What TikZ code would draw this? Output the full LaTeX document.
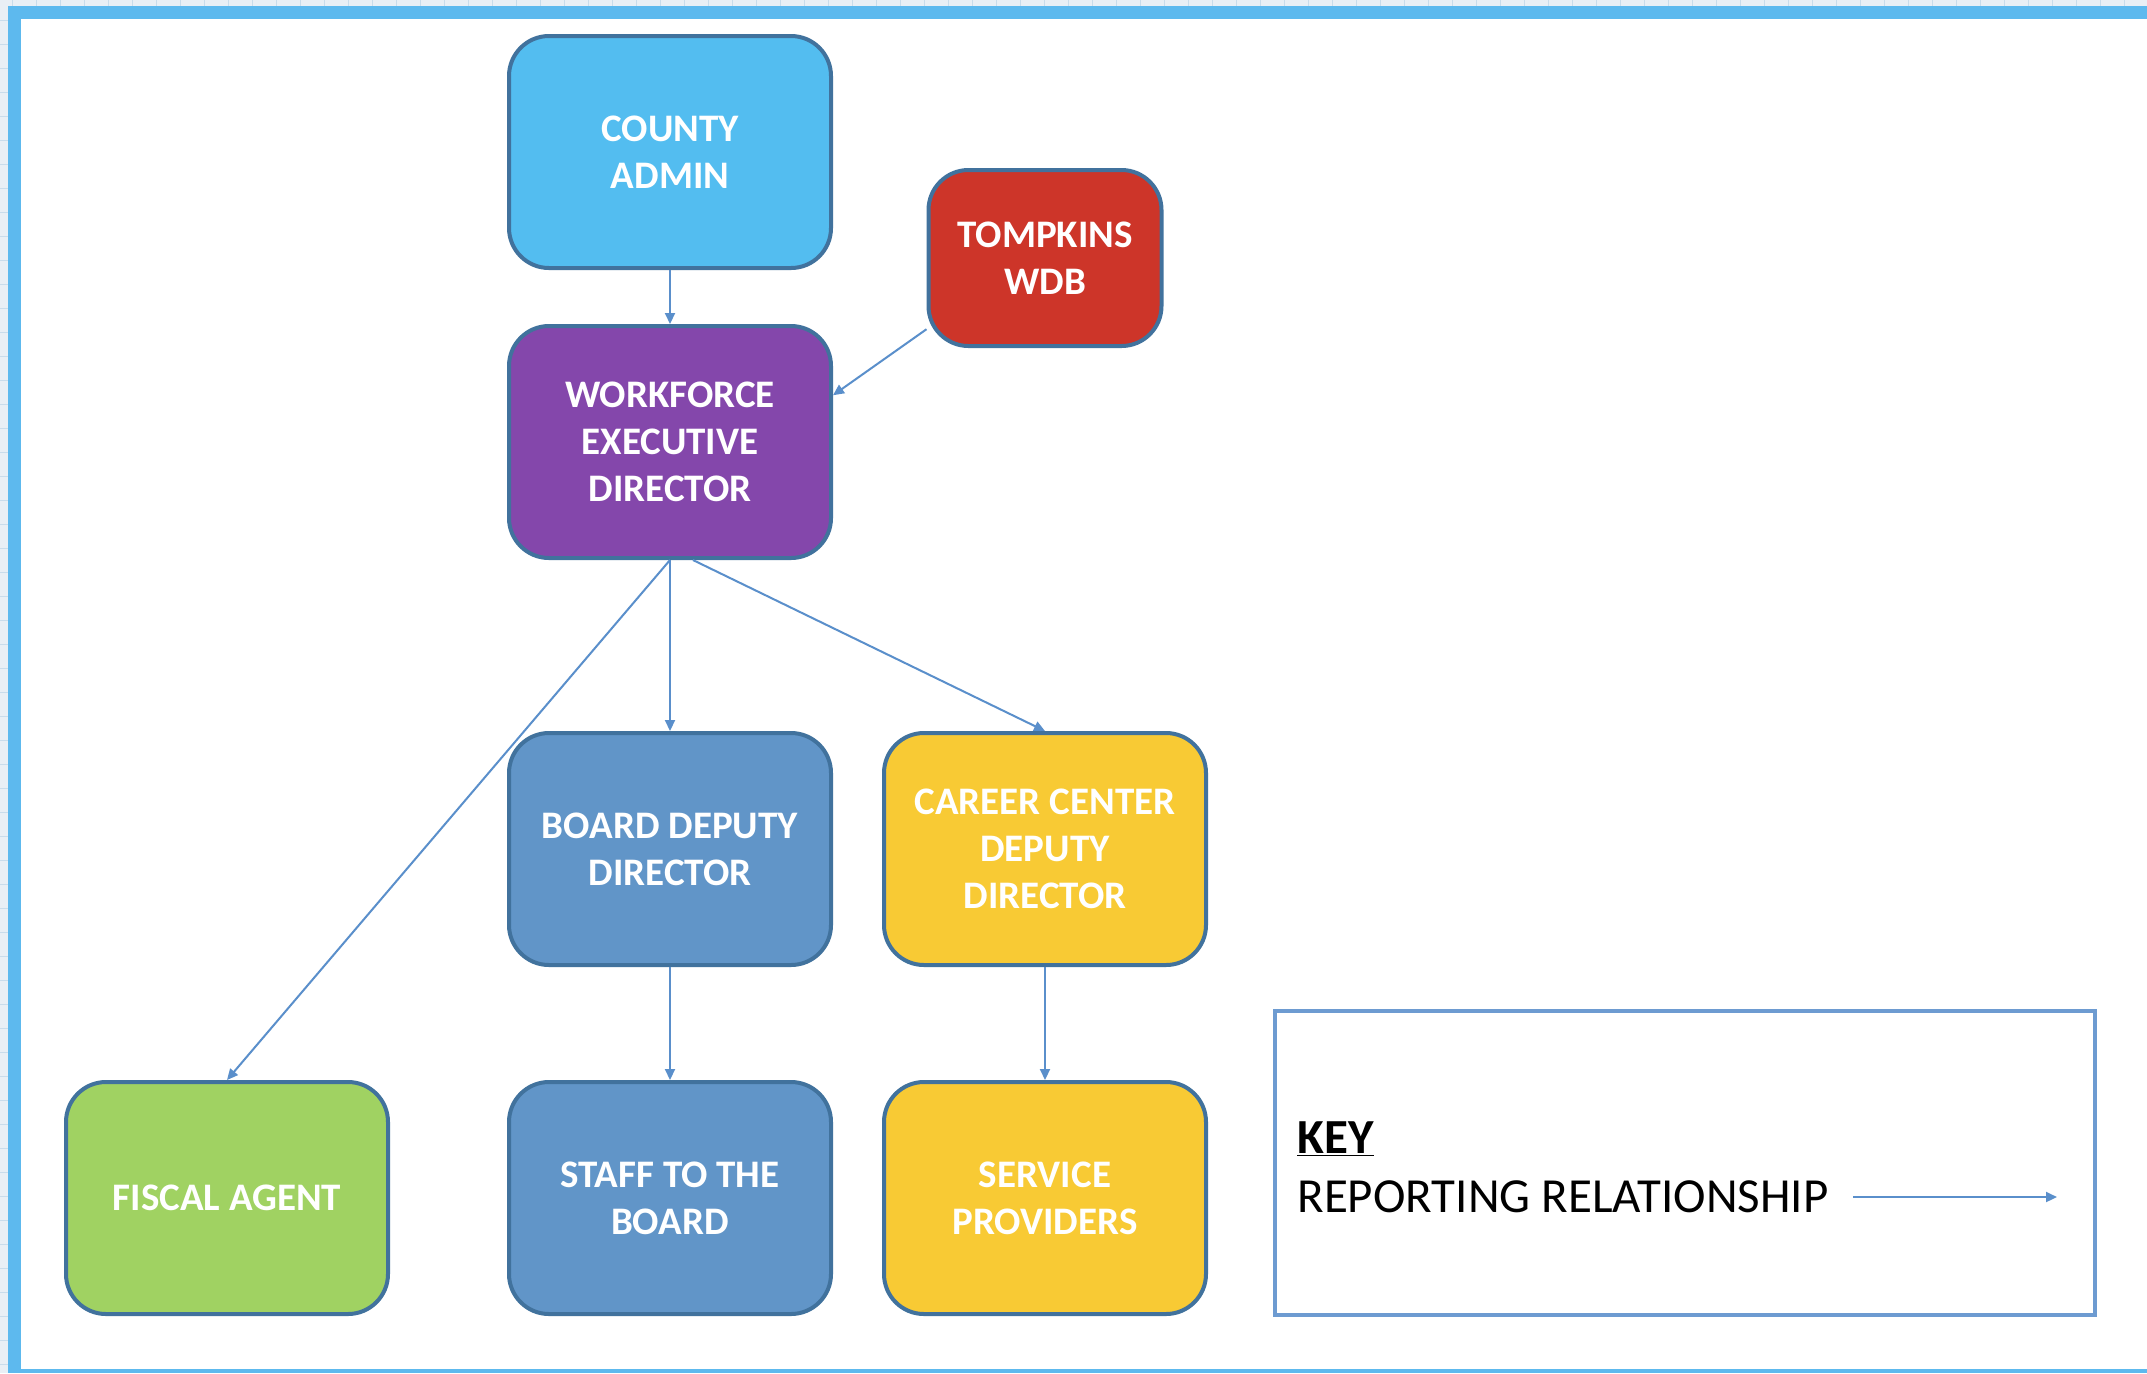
\documentclass[tikz,border=0pt]{standalone}
\usepackage{fontspec}
\setmainfont{Carlito}
\usetikzlibrary{arrows.meta}
\definecolor{framecol}{HTML}{5DB9EE}
\definecolor{gridcol}{HTML}{E9EFF5}
\definecolor{gridline}{HTML}{C9DCEB}
\definecolor{boxline}{HTML}{41729D}
\definecolor{arrowcol}{HTML}{5A8FCB}
\definecolor{keycol}{HTML}{6D9BD1}
\definecolor{countycol}{HTML}{53BDF0}
\definecolor{purplecol}{HTML}{8447AB}
\definecolor{redcol}{HTML}{CD3529}
\definecolor{steelcol}{HTML}{6195C8}
\definecolor{yellowcol}{HTML}{F8CA34}
\definecolor{greencol}{HTML}{A0D262}
\begin{document}
\begin{tikzpicture}[x=0.5pt,y=-0.5pt,node distance=145pt,
		box node/.style={draw=boxline,line width=2pt,rounded corners=20pt,text=white,align=center,inner sep=0pt,
			font=\fontsize{19.5}{23.5}\selectfont\bfseries,minimum width=161pt,minimum height=116pt},
		key text/.style={anchor=base west,inner sep=0pt,font=\fontsize{24.5}{28}\selectfont},
		report/.style={-{Triangle[length=5.5pt,width=5pt]},color=arrowcol,line width=1pt}]
		\useasboundingbox (0,0) rectangle (2147,1373);
		% frame
		\fill[gridcol] (0,0) rectangle (2147,6);
		\fill[gridcol] (0,0) rectangle (8,1373);
		\foreach \gx in {12,36,...,2147} \draw[gridline,line width=0.5pt] (\gx,0) -- (\gx,6);
		\foreach \gy in {20,44,...,1373} \draw[gridline,line width=0.5pt] (0,\gy) -- (8,\gy);
		\fill[framecol] (8,6) rectangle (2147,1373);
		\fill[white] (21,19) rectangle (2147,1369);
		% chart
		\node[box node,fill=countycol] (county) at (670,152) {COUNTY\\ADMIN};
		\node[box node,fill=purplecol] (workforce) [below of=county] {WORKFORCE\\EXECUTIVE\\DIRECTOR};
		\node[box node,fill=steelcol,node distance=203.5pt] (boarddep) [below of=workforce] {BOARD DEPUTY\\DIRECTOR};
		\node[box node,fill=steelcol,node distance=174.5pt] (staff) [below of=boarddep] {STAFF TO THE\\BOARD};
		\node[box node,fill=yellowcol,node distance=187.5pt] (careerdep) [right of=boarddep] {CAREER CENTER\\DEPUTY\\DIRECTOR};
		\node[box node,fill=yellowcol,node distance=187.5pt] (service) [right of=staff] {SERVICE\\PROVIDERS};
		\node[box node,fill=greencol,node distance=221.5pt] (fiscal) [left of=staff] {FISCAL AGENT};
		\node[box node,fill=redcol,minimum width=116.5pt,minimum height=88pt,node distance=295.5pt] (tompkins) [above of=careerdep] {TOMPKINS\\WDB};
		\path[report]
		(county) edge (workforce)
		(tompkins.211) edge (workforce.16)
		(workforce.south) edge (fiscal.north)
		(workforce) edge (boarddep)
		(workforce.-79) edge (careerdep.north)
		(boarddep) edge (staff)
		(careerdep) edge (service);
		% key
		\node[draw=keycol,line width=2pt,minimum width=410pt,minimum height=152pt,inner sep=0pt] (keybox) at (1685,1163) {};
		\node[key text,font=\fontsize{24.5}{28}\selectfont\bfseries] (keytitle) at (1297,1153) {\underline{KEY}};
		\node[key text] (reporting) at (1297,1212) {REPORTING RELATIONSHIP};
		\coordinate (keystart) at (1853,1197);
		\coordinate (keyend) at (2057,1197);
		\draw[report] (keystart) -- (keyend);
\end{tikzpicture}
\end{document}
